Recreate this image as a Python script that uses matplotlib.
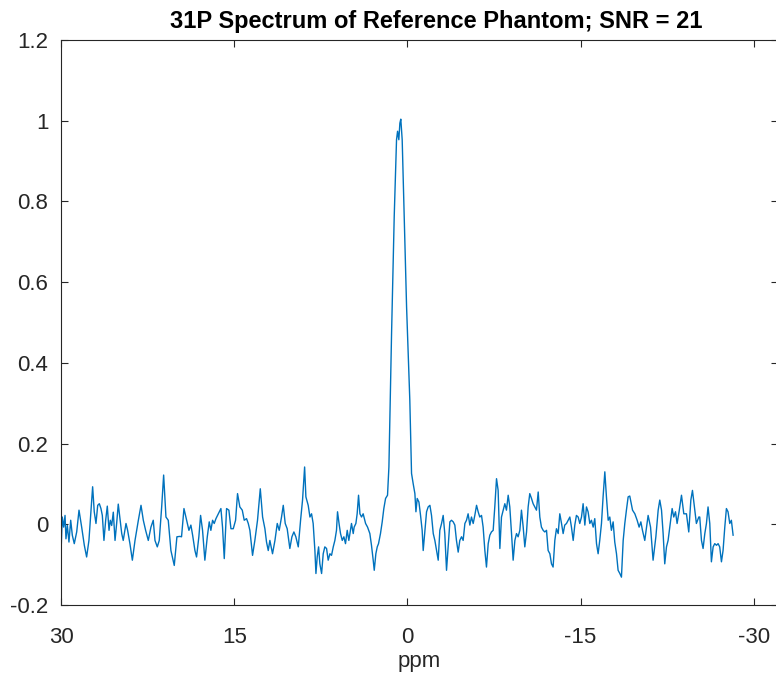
import matplotlib
matplotlib.use("Agg")
import matplotlib.pyplot as plt
from matplotlib.ticker import FuncFormatter

# Chemical shift (ppm) and normalised intensity
ppm = [
    30.11, 30.00, 29.89, 29.77, 29.65, 29.57, 29.45, 29.31, 29.16, 29.02,
    28.85, 28.64, 28.44, 28.21, 27.98, 27.78, 27.58, 27.40, 27.26, 27.12,
    26.97, 26.82, 26.68, 26.54, 26.42, 26.28, 26.13, 25.99, 25.84, 25.73,
    25.61, 25.47, 25.32, 25.18, 25.04, 24.89, 24.74, 24.61, 24.37, 24.23,
    24.03, 23.82, 23.59, 23.30, 23.07, 22.87, 22.67, 22.44, 22.21, 22.01,
    21.86, 21.66, 21.49, 21.28, 21.11, 20.91, 20.71, 20.48, 20.19, 19.96,
    19.70, 19.56, 19.35, 19.12, 18.92, 18.75, 18.60, 18.40, 18.26, 18.06,
    17.91, 17.74, 17.54, 17.33, 17.16, 17.02, 16.87, 16.73, 16.58, 16.44,
    16.29, 16.15, 16.01, 15.86, 15.66, 15.46, 15.28, 15.08, 14.88, 14.71,
    14.51, 14.30, 14.13, 13.93, 13.78, 13.64, 13.41, 13.21, 12.98, 12.74,
    12.54, 12.34, 12.20, 12.05, 11.91, 11.68, 11.47, 11.27, 11.10, 10.90,
    10.75, 10.58, 10.41, 10.18, 10.00, 9.83, 9.66, 9.45, 9.25, 9.08,
    8.90, 8.79, 8.59, 8.44, 8.30, 8.16, 8.01, 7.92, 7.81, 7.69,
    7.58, 7.43, 7.29, 7.15, 7.00, 6.86, 6.71, 6.57, 6.42, 6.28,
    6.14, 6.05, 5.90, 5.79, 5.64, 5.50, 5.36, 5.21, 5.07, 4.98,
    4.84, 4.69, 4.61, 4.46, 4.35, 4.23, 4.11, 3.97, 3.83, 3.62,
    3.45, 3.25, 3.11, 2.96, 2.87, 2.73, 2.61, 2.50, 2.33, 2.18,
    2.04, 1.89, 1.72, 1.60, 1.37, 1.14, 0.94, 0.85, 0.74, 0.65,
    0.57, 0.45, 0.31, 0.07, -0.21, -0.36, -0.50, -0.65, -0.74, -0.85,
    -1.00, -1.14, -1.28, -1.37, -1.52, -1.66, -1.80, -1.95, -2.09, -2.24,
    -2.38, -2.53, -2.67, -2.81, -2.96, -3.10, -3.24, -3.39, -3.53, -3.68,
    -3.82, -3.97, -4.11, -4.25, -4.40, -4.54, -4.69, -4.83, -4.98, -5.12,
    -5.26, -5.41, -5.55, -5.70, -5.84, -5.99, -6.13, -6.27, -6.42, -6.56,
    -6.71, -6.85, -7.00, -7.14, -7.28, -7.43, -7.57, -7.72, -7.86, -8.01,
    -8.15, -8.30, -8.44, -8.58, -8.73, -8.87, -9.02, -9.16, -9.31, -9.45,
    -9.59, -9.74, -9.88, -10.03, -10.17, -10.32, -10.46, -10.60, -10.75, -10.89,
    -11.04, -11.18, -11.33, -11.47, -11.61, -11.76, -11.90, -12.05, -12.19, -12.34,
    -12.48, -12.62, -12.77, -12.91, -13.06, -13.20, -13.35, -13.49, -13.63, -13.78,
    -13.92, -14.07, -14.21, -14.36, -14.50, -14.64, -14.79, -14.93, -15.08, -15.22,
    -15.37, -15.51, -15.65, -15.80, -15.94, -16.09, -16.23, -16.38, -16.52, -16.66,
    -16.81, -16.95, -17.10, -17.24, -17.39, -17.53, -17.67, -17.82, -17.96, -18.11,
    -18.25, -18.40, -18.54, -18.69, -18.83, -18.97, -19.12, -19.26, -19.50, -19.70,
    -19.90, -20.07, -20.22, -20.36, -20.56, -20.71, -20.85, -21.06, -21.28, -21.52,
    -21.72, -21.86, -22.01, -22.15, -22.29, -22.44, -22.58, -22.73, -22.93, -23.07,
    -23.22, -23.36, -23.53, -23.74, -23.94, -24.17, -24.37, -24.55, -24.69, -24.89,
    -25.03, -25.24, -25.32, -25.47, -25.61, -25.76, -25.90, -26.04, -26.19, -26.33,
    -26.48, -26.62, -26.77, -26.91, -27.05, -27.20, -27.34, -27.49, -27.63, -27.77,
    -27.92, -28.06, -28.21,
]
signal = [
    0.060, -0.073, 0.018, -0.007, 0.022, -0.036, -0.003, -0.044, 0.010, -0.027,
    -0.048, -0.019, 0.035, -0.007, -0.052, -0.081, -0.040, 0.035, 0.093, 0.031,
    0.002, 0.047, 0.051, 0.039, 0.022, -0.040, 0.010, 0.045, -0.015, 0.010,
    -0.003, 0.030, -0.040, 0.002, 0.050, 0.014, -0.023, -0.040, 0.002, -0.015,
    -0.048, -0.089, -0.040, 0.010, 0.047, 0.010, -0.015, -0.040, -0.007, 0.010,
    -0.040, -0.056, -0.040, 0.043, 0.122, 0.018, 0.010, -0.065, -0.102, -0.031,
    -0.030, -0.031, 0.039, 0.010, -0.015, -0.002, -0.027, -0.065, -0.081, -0.031,
    0.022, -0.015, -0.089, -0.031, 0.006, -0.015, 0.010, 0.002, 0.014, 0.022,
    0.031, 0.039, -0.007, -0.085, 0.039, 0.035, -0.011, -0.011, 0.010, 0.076,
    0.043, 0.035, 0.010, 0.014, 0.002, -0.015, -0.077, -0.040, 0.010, 0.088,
    0.018, -0.011, -0.044, -0.065, -0.040, -0.073, -0.040, 0.002, -0.015, 0.018,
    0.047, 0.002, -0.011, -0.060, -0.031, -0.019, -0.031, -0.056, 0.010, 0.060,
    0.142, 0.068, 0.047, 0.018, 0.026, 0.002, -0.065, -0.122, -0.081, -0.056,
    -0.098, -0.122, -0.073, -0.056, -0.060, -0.089, -0.073, -0.077, -0.056, -0.040,
    -0.015, 0.031, -0.002, -0.023, -0.040, -0.031, -0.048, -0.015, -0.040, -0.023,
    0.002, -0.023, -0.007, 0.002, 0.026, 0.072, 0.026, 0.018, 0.026, 0.002,
    -0.007, -0.023, -0.052, -0.089, -0.114, -0.073, -0.056, -0.048, -0.023, 0.006,
    0.039, 0.064, 0.072, 0.142, 0.473, 0.763, 0.953, 0.974, 0.953, 0.994,
    1.004, 0.953, 0.804, 0.539, 0.308, 0.126, 0.101, 0.076, 0.031, 0.064,
    0.055, 0.022, -0.015, -0.065, -0.015, 0.031, 0.043, 0.047, 0.022, -0.023,
    -0.040, -0.065, -0.089, -0.015, 0.002, 0.022, -0.023, -0.114, -0.056, 0.006,
    0.010, 0.006, -0.002, -0.040, -0.069, -0.040, -0.031, -0.040, 0.002, 0.010,
    0.026, -0.002, 0.018, 0.002, 0.022, 0.047, 0.031, 0.018, 0.022, -0.007,
    -0.065, -0.106, -0.048, -0.027, -0.019, -0.015, 0.043, 0.113, 0.084, -0.060,
    0.018, 0.035, 0.051, 0.035, 0.072, 0.043, -0.023, -0.089, -0.040, -0.023,
    -0.031, -0.015, 0.035, -0.007, -0.056, -0.019, 0.043, 0.076, 0.064, 0.051,
    0.043, 0.035, 0.080, 0.018, -0.007, -0.015, -0.019, -0.015, -0.065, -0.073,
    -0.098, -0.106, -0.040, -0.011, -0.023, 0.026, 0.002, -0.023, -0.002, 0.002,
    0.010, 0.018, -0.007, -0.040, -0.002, 0.022, 0.018, 0.002, 0.018, 0.051,
    -0.002, 0.043, 0.031, 0.002, 0.010, -0.007, 0.014, -0.048, -0.073, -0.040,
    0.002, 0.068, 0.130, 0.068, 0.010, 0.018, -0.015, 0.006, -0.044, -0.073,
    -0.114, -0.122, -0.131, -0.040, 0.002, 0.035, 0.068, 0.070, 0.035, 0.026,
    0.010, -0.007, 0.006, -0.015, -0.040, -0.007, 0.022, -0.007, -0.089, -0.031,
    0.035, 0.060, 0.035, -0.023, -0.098, -0.056, -0.040, -0.007, 0.039, 0.018,
    0.031, 0.002, 0.031, 0.072, 0.026, 0.026, -0.019, 0.060, 0.084, 0.035,
    0.002, 0.018, 0.018, -0.040, -0.060, -0.023, 0.002, 0.043, 0.002, -0.093,
    -0.056, -0.048, -0.052, -0.048, -0.056, -0.093, -0.065, -0.007, 0.039, 0.031,
    0.002, 0.010, -0.027,
]

x_ticks = [30, 15, 0, -15, -30]
y_ticks = [-0.2, 0, 0.2, 0.4, 0.6, 0.8, 1.0, 1.2]

plt.rcParams['font.family'] = ['Liberation Sans', 'DejaVu Sans']

fig = plt.figure(figsize=(7.76, 6.79), dpi=100)
# right edge sits just past the canvas, as in the cropped original
ax = fig.add_axes([0.0786, 0.109, 0.924, 0.832])

ax.plot(ppm, signal, color='#0072BD', linewidth=1.0)

ax.set_xlim(30, -32.1)
ax.set_ylim(-0.2, 1.2)
ax.set_xticks(x_ticks)
ax.set_yticks(y_ticks)
ax.yaxis.set_major_formatter(FuncFormatter(lambda v, _: f"{v:g}"))
ax.xaxis.set_major_formatter(FuncFormatter(lambda v, _: f"{v:g}"))

dark = '#262626'
ax.tick_params(direction='in', length=5, width=0.8, top=True, right=True,
               labelsize=16, colors=dark)
ax.tick_params(axis='x', pad=16)
ax.tick_params(axis='y', pad=9)
for s in ax.spines.values():
    s.set_color(dark)
    s.set_linewidth(0.8)

ax.set_xlabel('ppm', fontsize=16, color=dark, labelpad=2)
title = ax.set_title('31P Spectrum of Reference Phantom; SNR = 21', fontsize=17,
                     fontweight='bold', color='black', pad=9)
title.set_x(0.524)

fig.savefig('out.png', dpi=100)
